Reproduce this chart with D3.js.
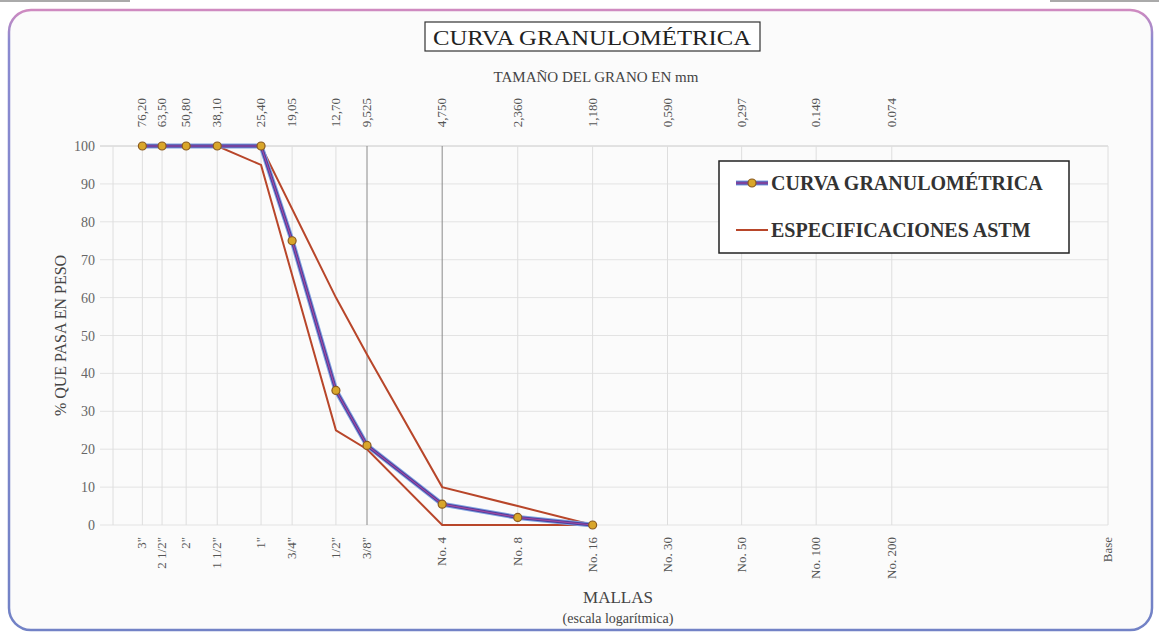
<!DOCTYPE html>
<html><head><meta charset="utf-8">
<script src="https://cdn.jsdelivr.net/npm/d3@7"></script>
<style>body{margin:0;background:#fff}svg{display:block}</style>
</head><body>
<svg id="c" width="1159" height="634"></svg>
<script>
// ---- data ----
const sieves = ['3"', '2 1/2"', '2"', '1 1/2"', '1"', '3/4"', '1/2"', '3/8"', 'No. 4', 'No. 8', 'No. 16', 'No. 30', 'No. 50', 'No. 100', 'No. 200', 'Base'];
const sizes = [76.2, 63.5, 50.8, 38.1, 25.4, 19.05, 12.7, 9.525, 4.75, 2.36, 1.18, 0.59, 0.297, 0.149, 0.074, 0.01];
const sizeLabels = ['76,20', '63,50', '50,80', '38,10', '25,40', '19,05', '12,70', '9,525', '4,750', '2,360', '1,180', '0,590', '0,297', '0.149', '0.074'];
const curveSizes = [76.2, 63.5, 50.8, 38.1, 25.4, 19.05, 12.7, 9.525, 4.75, 2.36, 1.18];
const curvePass = [100, 100, 100, 100, 100, 75, 35.5, 21, 5.5, 2, 0];
const specSizes = [76.2, 63.5, 50.8, 38.1, 25.4, 12.7, 9.525, 4.75, 2.36, 1.18];
const specUpper = [100, 100, 100, 100, 100, 60, 45, 10, 5, 0];
const specLower = [100, 100, 100, 100, 95, 25, 20, 0, 0, 0];
const yTicks = [0, 10, 20, 30, 40, 50, 60, 70, 80, 90, 100];
const darkGrid = [9.525, 4.75];

const svg = d3.select('#c');
const serif = '"Liberation Serif", "DejaVu Serif", serif';

// frame
const defs = svg.append('defs');
const g1 = defs.append('linearGradient').attr('id', 'fr').attr('x1', 0).attr('y1', 0).attr('x2', 0).attr('y2', 1);
g1.append('stop').attr('offset', '0').attr('stop-color', '#d08ac0');
g1.append('stop').attr('offset', '0.05').attr('stop-color', '#8a8ad0');
g1.append('stop').attr('offset', '1').attr('stop-color', '#7282c6');
svg.append('line').attr('x1', 0).attr('x2', 130).attr('y1', 1).attr('y2', 1).attr('stroke', '#aaa').attr('stroke-width', 2);
svg.append('line').attr('x1', 1050).attr('x2', 1159).attr('y1', 1).attr('y2', 1).attr('stroke', '#aaa').attr('stroke-width', 2);
svg.append('rect').attr('x', 9).attr('y', 10).attr('width', 1143).attr('height', 620).attr('rx', 22)
  .attr('fill', '#fbfbfb').attr('stroke', 'url(#fr)').attr('stroke-width', 2.5);

// scales
const x = d3.scaleLog().domain([100, 0.01]).range([113, 1108]);
const y = d3.scaleLinear().domain([0, 100]).range([525, 146]);

// grid
const grid = svg.append('g');
grid.selectAll('line.h').data(yTicks).join('line')
  .attr('x1', 100).attr('x2', 1108).attr('y1', d => y(d)).attr('y2', d => y(d))
  .attr('stroke', d => d === 100 ? '#c8c8c8' : '#e3e3e3').attr('stroke-width', 1);
grid.selectAll('line.v').data(sizes).join('line')
  .attr('x1', d => x(d)).attr('x2', d => x(d)).attr('y1', y(100)).attr('y2', y(0))
  .attr('stroke', d => darkGrid.includes(d) ? '#8a8a8a' : '#dedede').attr('stroke-width', 1);
grid.append('line').attr('x1', x(100)).attr('x2', x(100)).attr('y1', y(100)).attr('y2', y(0)).attr('stroke', '#dedede');

// y axis labels
svg.append('g').selectAll('text').data(yTicks).join('text')
  .attr('x', 95).attr('y', d => y(d) + 5).attr('text-anchor', 'end')
  .attr('font-family', serif).attr('font-size', 14).attr('fill', '#666').text(d => d);
svg.append('text').attr('transform', `translate(66,${(y(0) + y(100)) / 2}) rotate(-90)`)
  .attr('text-anchor', 'middle').attr('font-family', serif).attr('font-size', 16).attr('fill', '#444')
  .text('% QUE PASA EN PESO');

// top labels (mm)
svg.append('g').selectAll('text').data(sizeLabels).join('text')
  .attr('transform', (d, i) => `translate(${x(sizes[i]) + 4},98) rotate(-90)`)
  .attr('text-anchor', 'end').attr('font-family', serif).attr('font-size', 13).attr('fill', '#555').text(d => d);
svg.append('text').attr('x', 596).attr('y', 82).attr('text-anchor', 'middle')
  .attr('font-family', serif).attr('font-size', 15).attr('fill', '#444').text('TAMAÑO DEL GRANO EN mm');

// bottom labels (sieves)
svg.append('g').selectAll('text').data(sieves).join('text')
  .attr('transform', (d, i) => `translate(${x(sizes[i]) + 4},537) rotate(-90)`)
  .attr('text-anchor', 'end').attr('font-family', serif).attr('font-size', 13).attr('fill', '#555').text(d => d);
svg.append('text').attr('x', 618).attr('y', 603).attr('text-anchor', 'middle')
  .attr('font-family', serif).attr('font-size', 17).attr('fill', '#444').text('MALLAS');
svg.append('text').attr('x', 618).attr('y', 623).attr('text-anchor', 'middle')
  .attr('font-family', serif).attr('font-size', 14).attr('fill', '#444').text('(escala logarítmica)');

// title
svg.append('rect').attr('x', 425).attr('y', 22).attr('width', 335).attr('height', 29)
  .attr('fill', '#fff').attr('stroke', '#333').attr('stroke-width', 1.2);
svg.append('text').attr('x', 592).attr('y', 45).attr('text-anchor', 'middle')
  .attr('font-family', serif).attr('font-size', 22).attr('fill', '#222')
  .attr('textLength', 318).attr('lengthAdjust', 'spacingAndGlyphs').text('CURVA GRANULOMÉTRICA');

// lines
const line = d3.line().x(d => x(d[0])).y(d => y(d[1]));
const up = specSizes.map((s, i) => [s, specUpper[i]]);
const lo = specSizes.map((s, i) => [s, specLower[i]]);
const cv = curveSizes.map((s, i) => [s, curvePass[i]]);
svg.append('path').attr('d', line(up)).attr('fill', 'none').attr('stroke', '#b8462a').attr('stroke-width', 2);
svg.append('path').attr('d', line(lo)).attr('fill', 'none').attr('stroke', '#b8462a').attr('stroke-width', 2);
svg.append('path').attr('d', line(cv)).attr('fill', 'none').attr('stroke', '#7fa0e0').attr('stroke-width', 5);
svg.append('path').attr('d', line(cv)).attr('fill', 'none').attr('stroke', '#4a3c9c').attr('stroke-width', 3);
svg.append('path').attr('d', line(cv)).attr('fill', 'none').attr('stroke', '#a04aa0').attr('stroke-width', 1.2);
svg.append('g').selectAll('circle').data(cv).join('circle')
  .attr('cx', d => x(d[0])).attr('cy', d => y(d[1])).attr('r', 4)
  .attr('fill', '#d9a62a').attr('stroke', '#8a5a20').attr('stroke-width', 1.2);

// legend
const lg = svg.append('g');
lg.append('rect').attr('x', 719).attr('y', 161).attr('width', 350).attr('height', 92)
  .attr('fill', '#fff').attr('stroke', '#222').attr('stroke-width', 1.5);
lg.append('line').attr('x1', 736).attr('x2', 768).attr('y1', 183).attr('y2', 183).attr('stroke', '#7fa0e0').attr('stroke-width', 5);
lg.append('line').attr('x1', 736).attr('x2', 768).attr('y1', 183).attr('y2', 183).attr('stroke', '#4a3c9c').attr('stroke-width', 3);
lg.append('line').attr('x1', 736).attr('x2', 768).attr('y1', 183).attr('y2', 183).attr('stroke', '#a04aa0').attr('stroke-width', 1.2);
lg.append('circle').attr('cx', 752).attr('cy', 183).attr('r', 4).attr('fill', '#d9a62a').attr('stroke', '#8a5a20').attr('stroke-width', 1.2);
lg.append('text').attr('x', 771).attr('y', 190).attr('font-family', serif).attr('font-size', 20).attr('font-weight', 'bold').attr('fill', '#333').text('CURVA GRANULOMÉTRICA');
lg.append('line').attr('x1', 736).attr('x2', 768).attr('y1', 230).attr('y2', 230).attr('stroke', '#b8462a').attr('stroke-width', 2);
lg.append('text').attr('x', 771).attr('y', 237).attr('font-family', serif).attr('font-size', 20).attr('font-weight', 'bold').attr('fill', '#333').text('ESPECIFICACIONES ASTM');
</script>
</body></html>
